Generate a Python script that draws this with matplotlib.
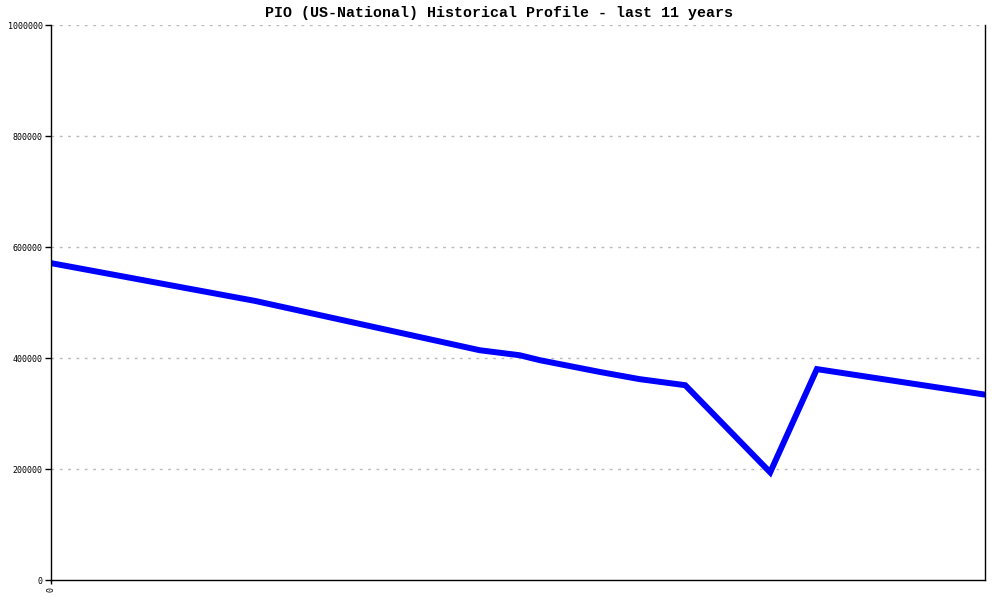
import matplotlib
matplotlib.use("Agg")
import matplotlib.pyplot as plt

# time in years since start of window, profile value
years = [0.0, 2.40, 5.05, 5.52, 5.76, 6.46, 6.93, 7.47, 8.47, 9.02, 11.0]
values = [571000, 503000, 414000, 405000, 396000, 375000, 362000, 351000, 194000, 380000, 334000]

y_ticks = [0, 200000, 400000, 600000, 800000, 1000000]
title = "PIO (US-National) Historical Profile - last 11 years"

fig = plt.figure(figsize=(10, 6), dpi=100)
ax = fig.add_axes([0.051, 0.0333, 0.934, 0.925])

ax.plot(years, values, color="#0000ff", lw=4.3, solid_joinstyle="miter")

ax.set_xlim(0, 11)
ax.set_ylim(0, 1000000)
ax.set_yticks(y_ticks)
ax.set_yticklabels([str(v) for v in y_ticks], fontsize=6, family="DejaVu Sans Mono")
ax.set_xticks([0])
ax.set_xticklabels(["0"], fontsize=6, family="DejaVu Sans Mono", rotation=90)
ax.tick_params(axis="y", direction="out", length=4, width=1, pad=2)
ax.tick_params(axis="x", direction="out", length=3, width=1, pad=2)

for v in y_ticks[1:]:
    ax.axhline(v, color="#bbbbbb", lw=1, ls=(0, (2, 4)), zorder=0)

ax.spines["top"].set_visible(False)
for s in ("left", "right", "bottom"):
    ax.spines[s].set_linewidth(1)
    ax.spines[s].set_color("black")

fig.text(0.499, 0.978, title, ha="center", va="center", fontsize=10.8,
         family="Liberation Mono", weight="bold")

fig.savefig("out.png", dpi=100)
